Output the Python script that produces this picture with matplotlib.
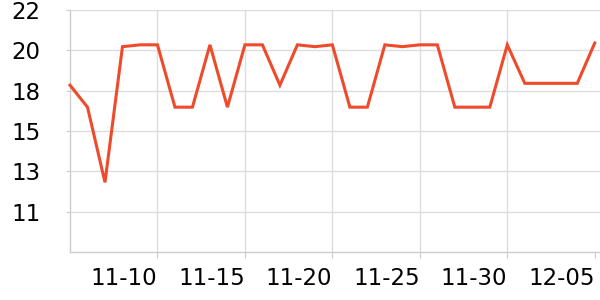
import matplotlib
matplotlib.use("Agg")
import matplotlib.pyplot as plt
import matplotlib.dates as mdates
import datetime as dt

dates = ["2023-11-05", "2023-11-06", "2023-11-07", "2023-11-08", "2023-11-09", "2023-11-10",
         "2023-11-11", "2023-11-12", "2023-11-13", "2023-11-14", "2023-11-15", "2023-11-16",
         "2023-11-17", "2023-11-18", "2023-11-19", "2023-11-20", "2023-11-21", "2023-11-22",
         "2023-11-23", "2023-11-24", "2023-11-25", "2023-11-26", "2023-11-27", "2023-11-28",
         "2023-11-29", "2023-11-30", "2023-12-01", "2023-12-02", "2023-12-03", "2023-12-04",
         "2023-12-05"]
values = [17.9, 16.7, 12.6, 20.0, 20.1, 20.1,
          16.7, 16.7, 20.1, 16.7, 20.1, 20.1,
          17.9, 20.1, 20.0, 20.1, 16.7, 16.7,
          20.1, 20.0, 20.1, 20.1, 16.7, 16.7,
          16.7, 20.1, 18.0, 18.0, 18.0, 18.0,
          20.2]
y_ticks = [22.0, 19.8, 17.6, 15.4, 13.2, 11.0]
x_ticks = ["2023-11-10", "2023-11-15", "2023-11-20", "2023-11-25", "2023-11-30", "2023-12-05"]

x = [dt.datetime.strptime(d, "%Y-%m-%d") for d in dates]
xt = [dt.datetime.strptime(d, "%Y-%m-%d") for d in x_ticks]

fig = plt.figure(figsize=(6, 3), dpi=100)
ax = fig.add_axes([70/600, 1-252/300, 530/600, 242/300])
ax.plot(x, values, color="#EE4A2C", lw=2.2, solid_joinstyle="miter", zorder=3, clip_on=False)

ax.set_ylim(8.8, 22)
ax.set_yticks(y_ticks)
ax.set_yticklabels([f"{v:.0f}" for v in y_ticks])
ax.set_xlim(x[0], x[0] + dt.timedelta(days=30.3))
ax.set_xticks(xt)
ax.xaxis.set_major_formatter(mdates.DateFormatter("%m-%d"))
for lbl in ax.get_xticklabels():
    lbl.set_horizontalalignment("right")

ax.grid(True, color="#dddddd", lw=1)
ax.get_xgridlines()[-1].set_visible(False)
ax.set_axisbelow(True)
for s in ["top", "right"]:
    ax.spines[s].set_visible(False)
for s in ["left", "bottom"]:
    ax.spines[s].set_color("#cccccc")
    ax.spines[s].set_linewidth(1)
ax.tick_params(axis="y", length=3, color="#cccccc", labelsize=16.5, pad=18)
ax.tick_params(axis="x", length=4, color="#cccccc", labelsize=16.5, pad=7)

fig.savefig("out.png", dpi=100)
